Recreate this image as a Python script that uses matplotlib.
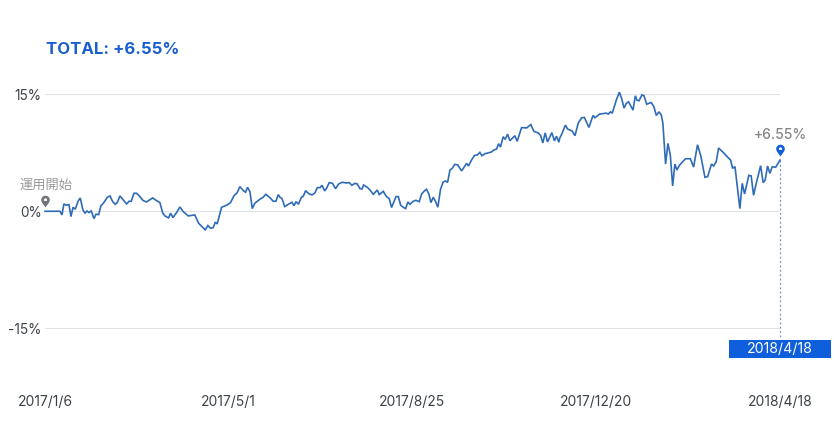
import matplotlib
matplotlib.use("Agg")
import matplotlib.pyplot as plt
import numpy as np
from matplotlib.path import Path
from matplotlib.patches import Rectangle
from matplotlib.transforms import offset_copy

plt.rcParams['font.family'] = ['Inter', 'Noto Sans CJK JP', 'DejaVu Sans']

days = [0,9.5,10.8,12,13.3,15.2,16.5,17.8,19.2,21,22.4,24.1,25.4,26.7,27.9,29.4,31.1,32.4,34.1,35.5,37.4,39.6,41.3,43,44.6,45.9,47.6,49.7,51.8,53.5,54.8,56.5,58.2,59.9,62.4,64.5,68.4,70.9,73,74.7,76.2,78.5,79.8,81.3,83.6,85.7,87.8,91,95.2,97.6,99.7,101.8,103.5,105.2,106.9,108.2,109.4,112.2,115.4,117.9,120,122.1,123.8,126,127.4,128.7,130.2,131.7,133.3,136.5,138.6,140.3,142.9,145,146.7,148.2,
149.3,150.6,152.3,154.6,156.9,158.2,159.5,161,162.9,164.1,165.6,167.5,169.6,171.5,173,174.7,176,177.7,178.9,180.6,182.7,184.6,186.6,188.7,191.6,193.3,195,196.9,198.4,200.1,201.4,202.4,204.8,206.5,208.6,211.1,212.4,214.9,217,218.7,220.2,221.7,223,224.5,226,227.6,229.1,230.6,231.9,234,235.7,237.8,239.3,240.8,242.4,243.9,245.2,246.7,248.2,249.6,251.3,253,254.5,255.8,257.3,258.7,260.4,262.3,264.7,267.9,269.1,271,272.9,274.6,276.3,277.6,279.5,283.5,285.2,286.9,288.2,289.4,291.1,292.4,293.9,295.4,298.5,300,302.8,306,308.7,310.6,313.4,314.8,316.3,317.8,319.3,322,323.7,325,326.5,
327,328.7,330.6,332.1,335,336.7,338.9,341,342.7,345.6,348.2,349.4,352.4,356.6,357.9,359.2,360.4,363,364.9,366.4,367.9,369.3,370.8,373.6,375.1,376.1,377.4,379.3,380.6,382.3,385.2,386.9,388.4,390.1,391.6,392.6,394.3,395.8,397.3,398.8,400.2,401.5,403.2,407,410,412.1,414.6,416.8,419.3,421,423.5,424.8,426.5,428,430.7,433.9,435.6,436.9,438.4,441.5,443,444.5,447.2,448.7,450.2,451.9,454.7,456.3,457.6,459.1,460.6,462.1,464.2,467]

returns = [0,0,-.47,.94,.77,.85,-.68,.51,.26,1.28,1.70,.17,-.26,.04,-.17,.04,-.94,-.38,-.43,.68,1.11,1.79,1.96,1.23,.89,1.11,1.96,1.45,.94,1.28,1.28,2.3,2.3,1.96,1.36,1.19,1.70,1.36,1.11,-.17,-.6,-.85,-.26,-.81,-.17,.55,-.04,-.6,-.47,-1.53,-1.96,-2.38,-1.83,-2.17,-2.09,-1.40,-1.62,.51,.77,1.11,1.96,2.38,3.15,2.64,2.43,3.06,2.51,.34,1.02,1.53,1.79,2.17,1.74,1.28,1.28,2.13,
1.79,1.62,.60,.89,1.15,.72,1.23,.89,1.79,1.91,2.64,2.26,2.09,2.34,3.02,3.02,3.32,2.6,2.94,3.66,3.57,2.89,3.49,3.70,3.62,3.66,3.32,3.57,3.49,2.89,2.85,3.36,3.06,2.72,2.17,2.72,2.13,2.55,1.87,1.62,.47,1.23,1.87,1.87,.77,.51,.34,1.19,.89,1.28,1.40,1.23,2.21,2.55,2.81,2.21,1.11,1.79,1.23,.51,2.81,3.74,3.87,3.70,5.28,5.49,6.0,5.91,5.15,6.13,5.79,6.55,7.15,7.19,7.53,7.11,7.36,7.57,7.83,7.96,8.64,8.21,9.53,9.19,9.87,9.02,9.66,8.94,10.70,10.66,11.09,10.23,10.02,9.72,8.74,10.02,8.87,10.06,9.0,9.6,8.83,
9.32,10.04,11.02,10.51,10.26,9.66,11.32,11.96,12.0,10.72,12.26,11.96,12.43,12.55,12.43,12.72,12.55,14.21,15.23,14.43,13.19,13.79,14.0,12.94,14.77,14.21,14.13,14.89,14.77,13.7,13.91,13.36,12.26,12.72,12.3,11.23,6.04,8.68,7.19,3.23,6.04,5.28,5.91,6.72,6.72,5.66,8.51,6.98,4.34,4.43,6.04,5.79,6.34,8.09,7.57,6.89,6.55,5.49,5.70,.34,3.57,2.21,4.6,4.51,2.04,3.57,5.83,3.66,4.0,5.79,4.85,5.7,5.62,6.55]

x_tick_labels = ['2017/1/6', '2017/5/1', '2017/8/25', '2017/12/20', '2018/4/18']
y_ticks = [-15, 0, 15]
y_tick_labels = ['-15%', '0%', '15%']
total_label = 'TOTAL: +6.55%'
end_label = '+6.55%'
start_label = '運用開始'
end_date = '2018/4/18'

W, H = 840, 423
BLUE = '#0f5fdc'
fig = plt.figure(figsize=(W/100, H/100), dpi=100, facecolor='white')
ax = fig.add_axes([45/W, 1-328.5/H, 735/W, 234.5/H])
ax.set_xlim(0, 467)
ax.set_ylim(-15, 15)
for s in ax.spines.values():
    s.set_visible(False)
ax.set_yticks(y_ticks, y_tick_labels)
ax.set_xticks(np.linspace(0, 467, 5), x_tick_labels)
ax.tick_params(axis='y', length=0, pad=2.5, labelsize=9.8, labelcolor='#3c4248')
ax.tick_params(axis='x', length=0, pad=48, labelsize=10, labelcolor='#3c4248')
for lab in ax.get_yticklabels():
    lab.set_y(lab.get_position()[1])
ax.grid(axis='y', color='#e0e3e8', lw=0.8)
ax.set_axisbelow(True)

ax.plot(days, returns, color='#2f6cb8', lw=1.2, clip_on=False, solid_joinstyle='miter', zorder=3)
drop_to = ax.transData.inverted().transform((0, H - 340))[1]
ax.plot([days[-1], days[-1]], [returns[-1], drop_to], color='#6f93c8', lw=0.9, ls=(0, (1.5, 2)), clip_on=False, zorder=2)

# map pin marker: tip at the origin
t = np.linspace(-0.2*np.pi, 1.2*np.pi, 40)
outer = np.c_[np.r_[0, 4*np.cos(t), 0], np.r_[0, 7+4*np.sin(t), 0]]
inner = np.c_[1.5*np.cos(t[::-1]), 7+1.5*np.sin(t[::-1])]
inner = np.r_[inner, inner[:1]]
pin = Path.make_compound_path(Path(outer, closed=True), Path(inner, closed=True))
for i, colour in ((0, '#70757c'), (-1, BLUE)):
    tr = offset_copy(ax.transData, fig=fig, x=0, y=4.5, units='dots')
    ax.plot([days[i]], [returns[i]], marker=pin, ms=17, mew=0, color=colour, transform=tr, clip_on=False, zorder=4)

fig.text(46/W, 1-49/H, total_label, color='#1a5fd0', fontsize=12.1, fontweight='bold', va='center', ha='left')
fig.text(46/W, 1-186/H, start_label, color='#9a9a9a', fontsize=9.5, va='center', ha='center')
fig.text(780/W, 1-135/H, end_label, color='#858585', fontsize=10, fontweight='medium', va='center', ha='center')

fig.add_artist(Rectangle((728.5/W, 1-358/H), 102/W, 18/H, transform=fig.transFigure, facecolor=BLUE, edgecolor='none'))
fig.text(780/W, 1-348.5/H, end_date, color='white', fontsize=10.2, va='center', ha='center')

fig.savefig('out.png', dpi=100, facecolor='white')
